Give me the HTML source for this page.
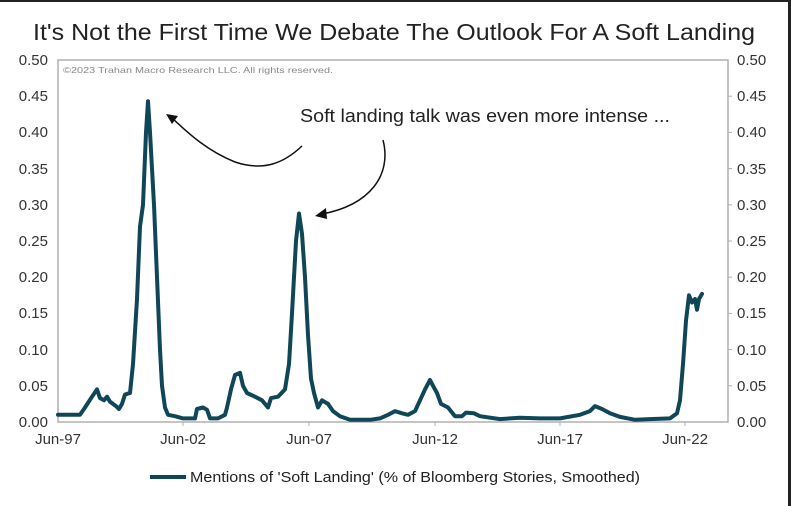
<!DOCTYPE html>
<html><head><meta charset="utf-8"><style>
html,body{margin:0;padding:0;background:#fff;}
svg{display:block;font-family:"Liberation Sans",sans-serif;}
</style></head><body>
<svg width="791" height="506" viewBox="0 0 791 506" xmlns="http://www.w3.org/2000/svg">
<rect x="0" y="0" width="791" height="506" fill="#fff"/>
<rect x="0" y="0" width="791" height="2" fill="#222"/>
<rect x="788" y="0" width="3" height="506" fill="#222"/>
<text x="33" y="40" font-size="23" fill="#222" textLength="722" lengthAdjust="spacingAndGlyphs">It's Not the First Time We Debate The Outlook For A Soft Landing</text>
<rect x="58" y="60" width="670" height="362" fill="none" stroke="#b0b0b0" stroke-width="1.5"/>
<g stroke="#b0b0b0" stroke-width="1">
<line x1="728" y1="96.2" x2="732" y2="96.2"/><line x1="728" y1="132.4" x2="732" y2="132.4"/><line x1="728" y1="168.6" x2="732" y2="168.6"/><line x1="728" y1="204.8" x2="732" y2="204.8"/><line x1="728" y1="241" x2="732" y2="241"/><line x1="728" y1="277.2" x2="732" y2="277.2"/><line x1="728" y1="313.4" x2="732" y2="313.4"/><line x1="728" y1="349.6" x2="732" y2="349.6"/><line x1="728" y1="385.8" x2="732" y2="385.8"/>
<line x1="183" y1="422" x2="183" y2="426"/><line x1="309" y1="422" x2="309" y2="426"/><line x1="435" y1="422" x2="435" y2="426"/><line x1="560" y1="422" x2="560" y2="426"/><line x1="685" y1="422" x2="685" y2="426"/>
</g>
<g font-size="15" fill="#333" text-anchor="end">
<text x="48" y="65">0.50</text><text x="48" y="101">0.45</text><text x="48" y="137">0.40</text><text x="48" y="174">0.35</text><text x="48" y="210">0.30</text><text x="48" y="246">0.25</text><text x="48" y="282">0.20</text><text x="48" y="318">0.15</text><text x="48" y="355">0.10</text><text x="48" y="391">0.05</text><text x="48" y="427">0.00</text>
</g>
<g font-size="15" fill="#333">
<text x="737" y="65">0.50</text><text x="737" y="101">0.45</text><text x="737" y="137">0.40</text><text x="737" y="174">0.35</text><text x="737" y="210">0.30</text><text x="737" y="246">0.25</text><text x="737" y="282">0.20</text><text x="737" y="318">0.15</text><text x="737" y="355">0.10</text><text x="737" y="391">0.05</text><text x="737" y="427">0.00</text>
</g>
<g font-size="15" fill="#333" text-anchor="middle">
<text x="58" y="444">Jun-97</text><text x="183" y="444">Jun-02</text><text x="309" y="444">Jun-07</text><text x="435" y="444">Jun-12</text><text x="560" y="444">Jun-17</text><text x="685" y="444">Jun-22</text>
</g>
<text x="63" y="73" font-size="8.5" fill="#888" textLength="270" lengthAdjust="spacingAndGlyphs">©2023 Trahan Macro Research LLC. All rights reserved.</text>
<text x="300" y="122" font-size="18" fill="#222" textLength="370" lengthAdjust="spacingAndGlyphs">Soft landing talk was even more intense ...</text>
<g fill="none" stroke="#111" stroke-width="1.5">
<path d="M302,146 C285,162 265,172 235,162 C205,150 185,130 172,118"/>
<path d="M383,140 C392,175 370,205 322,214"/>
</g>
<polygon points="166,114 178,116 172,124" fill="#111"/>
<polygon points="315,216 326,208 327,219" fill="#111"/>
<polyline fill="none" stroke="#0f4658" stroke-width="4" stroke-linejoin="round" stroke-linecap="round" points="58,414.8 80,414.8 85,407.5 92,396.7 97,389.4 100,398.1 104,400.3 107,396.7 110,401.7 116,406.1 119,409 122,403.9 125,394.5 130,393 133,364.1 137,299 140,226.5 143,204.8 146,132.4 148,101.3 150,132.4 154,204.8 157,277.2 160,349.6 162,385.8 165,407.5 168,414.8 175,416.2 183,418.4 195,418.4 197,409 203,407.5 207,409.7 210,418.4 218,418.4 225,414.8 227,407.5 231,389.4 235,375 240,372.8 243,385.8 247,393 255,396.7 262,400.3 268,407.5 271,398.1 278,396.7 285,389.4 289,364.1 292,313.4 296,241 299,213.5 302,233.8 305,277.2 308,335.1 311,378.6 314,393 318,407.5 322,400.3 328,403.9 333,411.1 340,416.2 350,419.8 370,419.8 380,418.4 388,414.8 395,411.1 402,413.3 408,414.8 415,411.1 420,400.3 425,389.4 430,380 433,385.8 437,393 441,403.9 448,407.5 455,416.2 462,416.2 466,412.6 474,413.3 480,416.2 500,419.1 520,417.7 540,418.4 560,418.4 580,414.8 590,411.1 595,406.1 602,409 610,413.3 620,416.9 635,419.8 650,419.1 670,418.4 677,413.3 680,400.3 683,364.1 686,320.6 689,295.3 692,302.5 695,299 697,309.8 699,299 702,293.9"/>
<line x1="150" y1="477" x2="186" y2="477" stroke="#0f4658" stroke-width="4"/>
<text x="190" y="482" font-size="15" fill="#222" textLength="450" lengthAdjust="spacingAndGlyphs">Mentions of 'Soft Landing' (% of Bloomberg Stories, Smoothed)</text>
</svg>
</body></html>
